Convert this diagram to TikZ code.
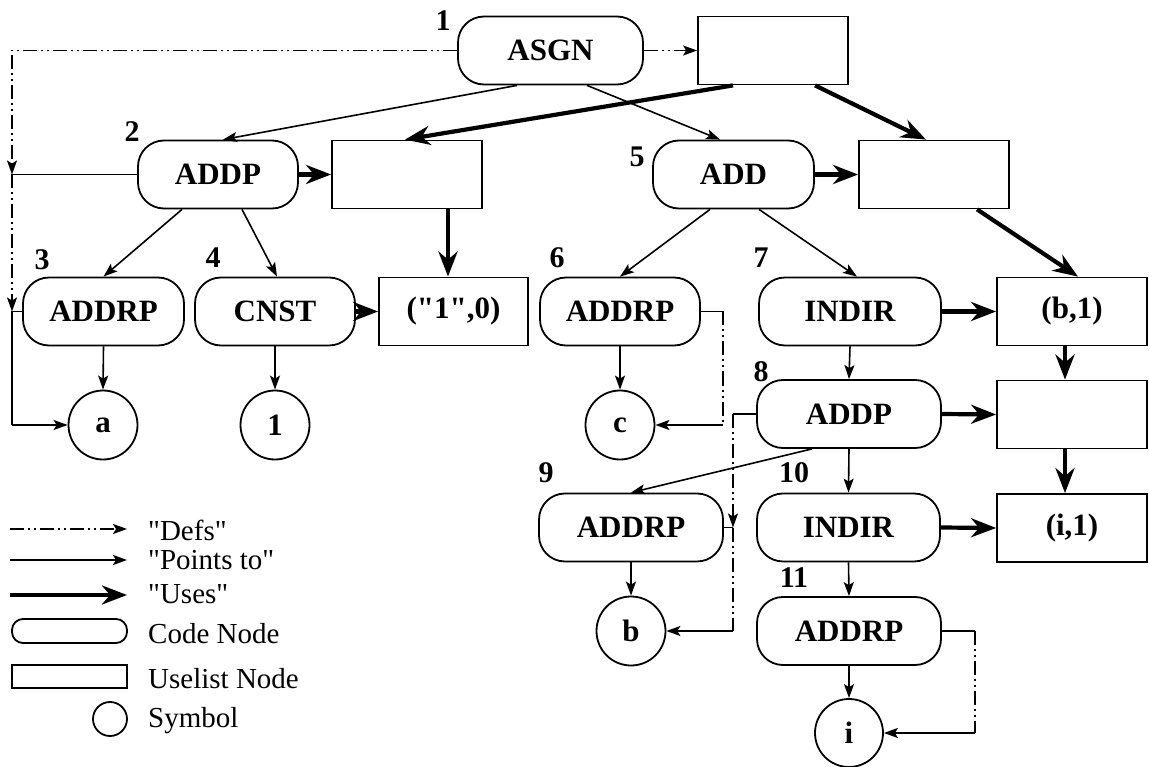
\documentclass[tikz,border=0pt]{standalone}
\usepackage{fontspec}
\setmainfont{Liberation Serif}[Ligatures=TeXOff]
\usetikzlibrary{arrows.meta}
% straight double quote
\newcommand{\sq}{\symbol{34}}
\begin{document}
\begin{tikzpicture}[x=1pt,y=-1pt,
  every node/.style={inner sep=0pt},
  code/.style={draw, line width=1.8pt, rounded corners=26pt, minimum height=68pt,
    font=\fontsize{31}{36}\selectfont\bfseries},
  uselist/.style={draw, line width=1.8pt, minimum width=150pt, minimum height=68pt,
    font=\fontsize{31}{36}\selectfont\bfseries},
  sym/.style={draw, circle, line width=1.8pt, minimum size=69pt,
    font=\fontsize{31}{36}\selectfont\bfseries},
  num/.style={font=\fontsize{30}{36}\selectfont\bfseries},
  legtext/.style={font=\fontsize{29}{34}\selectfont, anchor=base west},
  ptr/.style={line width=1.6pt, -{Stealth[length=14pt,width=10pt,inset=3pt]}},
  uses/.style={line width=4.2pt, -{Stealth[length=25pt,width=19pt,inset=8pt]}},
  defs/.style={line width=1.5pt, dash pattern=on 14pt off 4pt on 2pt off 4pt on 2pt off 4pt},
  link/.style={line width=1.5pt},
  deftip/.style={-{Stealth[length=14pt,width=10pt,inset=3pt]}}
]
\useasboundingbox (0,0) rectangle (1149,767);

% ---- code nodes ----
\node[code, minimum width=185pt] (asgn)   at (550.5,50.5) {ASGN};
\node[code, minimum width=160pt] (addp2)  at (218,174.5)  {ADDP};
\node[code, minimum width=161pt] (add5)   at (733.5,174.5){ADD};
\node[code, minimum width=161pt] (addrp3) at (103.5,311.5){ADDRP};
\node[code, minimum width=160pt] (cnst4)  at (275,311.5)  {CNST};
\node[code, minimum width=160pt] (addrp6) at (620,311.5)  {ADDRP};
\node[code, minimum width=182pt] (indir7) at (850,311.5)  {INDIR};
\node[code, minimum width=184pt] (addp8)  at (849,414)    {ADDP};
\node[code, minimum width=184pt] (addrp9) at (631,527.5)  {ADDRP};
\node[code, minimum width=183pt] (indir10)at (848.5,527.5){INDIR};
\node[code, minimum width=184pt] (addrp11)at (849,631)    {ADDRP};

% ---- uselist nodes ----
\node[uselist] (ul1) at (773,50.5)   {};
\node[uselist] (ul2) at (407,174.5)  {};
\node[uselist] (ul3) at (934,174.5)  {};
\node[uselist, minimum width=149pt] (ulc) at (453.5,311.5) {(\sq1\sq,0)};
\node[uselist] (ulb) at (1072,311.5) {(b,1)};
\node[uselist] (ul4) at (1072,414.5) {};
\node[uselist] (uli) at (1072,528)   {(i,1)};

% ---- symbols ----
\node[sym] (sa) at (103,425) {a};
\node[sym] (s1) at (275,425) {1};
\node[sym] (sc) at (620,425) {c};
\node[sym] (sb) at (631,631) {b};
\node[sym, minimum size=68pt] (si) at (849,733) {i};

% ---- node numbers ----
\node[num] (n1)  at (443,21)  {1};
\node[num] (n2)  at (132,132) {2};
\node[num] (n3)  at (42,260)  {3};
\node[num] (n4)  at (213,258) {4};
\node[num] (n5)  at (637,157) {5};
\node[num] (n6)  at (557,258) {6};
\node[num] (n7)  at (761,258) {7};
\node[num] (n8)  at (761,372) {8};
\node[num] (n9)  at (546,473) {9};
\node[num] (n10) at (794,473) {10};
\node[num] (n11) at (794,578) {11};

% ---- "points to" edges ----
\draw[ptr] ([xshift=-33.5pt]asgn.south) -- ([xshift=5pt]addp2.north);
\draw[ptr] ([xshift=36.5pt]asgn.south) -- ([xshift=-13.5pt]add5.north);
\draw[ptr] ([xshift=-36pt]addp2.south) -- (addrp3.north);
\draw[ptr] ([xshift=24pt]addp2.south) -- ([xshift=2pt]cnst4.north);
\draw[ptr] ([xshift=-23.5pt]add5.south) -- (addrp6.north);
\draw[ptr] ([xshift=25.5pt]add5.south) -- ([xshift=7pt]indir7.north);
\draw[ptr] (addrp3.south) -- (sa.north);
\draw[ptr] (cnst4.south) -- (s1.north);
\draw[ptr] (addrp6.south) -- (sc.north);
\draw[ptr] (indir7.south) -- (addp8.north);
\draw[ptr] ([xshift=-37pt]addp8.south) -- (addrp9.north);
\draw[ptr] (addp8.south) -- (indir10.north);
\draw[ptr] (addrp9.south) -- (sb.north);
\draw[ptr] (indir10.south) -- (addrp11.north);
\draw[ptr] (addrp11.south) -- (si.north);

% ---- "uses" edges ----
\draw[uses] ([xshift=-40pt]ul1.south) -- ([xshift=-2pt]ul2.north);
\draw[uses] ([xshift=42pt]ul1.south) -- ([xshift=-8pt]ul3.north);
\draw[uses] (addp2.east) -- (ul2.west);
\draw[uses] (add5.east) -- (ul3.west);
\draw[uses] ([xshift=41pt]ul2.south) -- ([xshift=-5.5pt]ulc.north);
\draw[uses] (cnst4.east) -- (ulc.west);
\draw[uses] ([xshift=43pt]ul3.south) -- ([xshift=6pt]ulb.north);
\draw[uses] (indir7.east) -- (ulb.west);
\draw[uses] ([xshift=-7pt]ulb.south) -- ([xshift=-7pt]ul4.north);
\draw[uses] (addp8.east) -- (ul4.west);
\draw[uses] ([xshift=-7pt]ul4.south) -- ([xshift=-7pt]uli.north);
\draw[uses] (indir10.east) -- (uli.west);

% ---- "defs" edges ----
\draw[defs, deftip] (asgn.east) -- (ul1.west);
\coordinate (j0) at (12,50.5);
\coordinate (j1) at (12,174.5);
\coordinate (j2) at (12,311.5);
\coordinate (j3) at (12,425);
\draw[defs, deftip] (asgn.west) -- (j0) -- (j1);
\draw[link] (addp2.west) -- (j1);
\draw[defs, deftip] (j1) -- (j2);
\draw[link] (addrp3.west) -- (j2);
\draw[link] (j2) -- (j3);
\draw[link, deftip] (j3) -- (sa.west);

\coordinate (k1) at (723,311.5);
\coordinate (k2) at (723,425);
\draw[link] (addrp6.east) -- (k1);
\draw[defs] (k1) -- (k2);
\draw[link, deftip] (k2) -- (sc.east);

\coordinate (m1) at (733,414);
\coordinate (m2) at (733,527.5);
\coordinate (m3) at (733,631);
\draw[link] (addp8.west) -- (m1);
\draw[defs, deftip] (m1) -- (m2);
\draw[link] (addrp9.east) -- (m2);
\draw[defs] (m2) -- (m3);
\draw[link, deftip] (m3) -- (sb.east);

\coordinate (p1) at (975,631);
\coordinate (p2) at (975,733);
\draw[link] (addrp11.east) -- (p1);
\draw[defs] (p1) -- (p2);
\draw[link, deftip] (p2) -- (si.east);

% ---- legend ----
\coordinate (la0) at (10,529);  \coordinate (la1) at (127,529);
\coordinate (lb0) at (10,560);  \coordinate (lb1) at (127,560);
\coordinate (lc0) at (10,595);  \coordinate (lc1) at (127,595);
\draw[defs, deftip] (la0) -- (la1);
\draw[ptr] (lb0) -- (lb1);
\draw[uses] (lc0) -- (lc1);
\node[draw, line width=1.8pt, rounded corners=11pt, minimum width=115pt, minimum height=24pt] (lcode) at (69.5,631) {};
\node[draw, line width=1.8pt, minimum width=115pt, minimum height=23pt] (luse) at (69.5,676.5) {};
\node[draw, circle, line width=1.8pt, minimum size=34pt] (lsym) at (110,719) {};
\node[legtext] (tdefs) at (148,540) {\sq Defs\sq};
\node[legtext] (tptr)  at (148,569) {\sq Points to\sq};
\node[legtext] (tuses) at (148,603) {\sq Uses\sq};
\node[legtext] (tcode) at (148,643) {Code Node};
\node[legtext] (tuse)  at (148,688) {Uselist Node};
\node[legtext] (tsym)  at (148,727) {Symbol};
\end{tikzpicture}
\end{document}
